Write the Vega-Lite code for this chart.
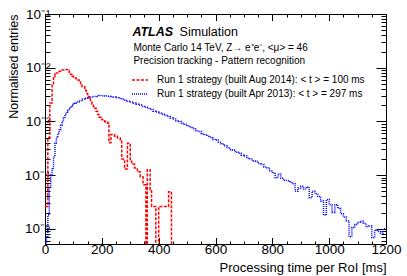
{
  "$schema": "https://vega.github.io/schema/vega-lite/v6.json",
  "width": 341,
  "height": 230,
  "autosize": "none",
  "padding": {"left": 45, "top": 14, "right": 21, "bottom": 32},
  "background": "white",
  "config": {
    "view": {"stroke": null},
    "font": "Liberation Sans",
    "axis": {
      "grid": false,
      "domainColor": "black",
      "domainWidth": 1,
      "tickColor": "black",
      "tickWidth": 1,
      "labelColor": "black",
      "titleColor": "black",
      "titleFontWeight": "normal",
      "labelFont": "Liberation Sans",
      "titleFont": "Liberation Sans",
      "labelOverlap": false,
      "labelFlush": false
    },
    "legend": {"labelLimit": 0}
  },
  "datasets": {
    "hist": [
      {"build": "Aug 2014", "t": 0, "v": 2.6e-5},
      {"build": "Aug 2014", "t": 10, "v": 5e-4},
      {"build": "Aug 2014", "t": 17, "v": 2.2e-3},
      {"build": "Aug 2014", "t": 25, "v": 5.0e-3},
      {"build": "Aug 2014", "t": 30, "v": 6.8e-3},
      {"build": "Aug 2014", "t": 35, "v": 7.6e-3},
      {"build": "Aug 2014", "t": 40, "v": 8.0e-3},
      {"build": "Aug 2014", "t": 50, "v": 8.6e-3},
      {"build": "Aug 2014", "t": 60, "v": 9.1e-3},
      {"build": "Aug 2014", "t": 70, "v": 9.3e-3},
      {"build": "Aug 2014", "t": 80, "v": 8.9e-3},
      {"build": "Aug 2014", "t": 85, "v": 8.2e-3},
      {"build": "Aug 2014", "t": 90, "v": 7.5e-3},
      {"build": "Aug 2014", "t": 95, "v": 6.9e-3},
      {"build": "Aug 2014", "t": 100, "v": 6.4e-3},
      {"build": "Aug 2014", "t": 110, "v": 5.9e-3},
      {"build": "Aug 2014", "t": 120, "v": 5.4e-3},
      {"build": "Aug 2014", "t": 125, "v": 4.9e-3},
      {"build": "Aug 2014", "t": 130, "v": 4.4e-3},
      {"build": "Aug 2014", "t": 140, "v": 3.8e-3},
      {"build": "Aug 2014", "t": 145, "v": 3.3e-3},
      {"build": "Aug 2014", "t": 150, "v": 2.9e-3},
      {"build": "Aug 2014", "t": 155, "v": 2.6e-3},
      {"build": "Aug 2014", "t": 160, "v": 2.3e-3},
      {"build": "Aug 2014", "t": 165, "v": 2.1e-3},
      {"build": "Aug 2014", "t": 170, "v": 1.9e-3},
      {"build": "Aug 2014", "t": 175, "v": 1.75e-3},
      {"build": "Aug 2014", "t": 180, "v": 1.55e-3},
      {"build": "Aug 2014", "t": 185, "v": 1.35e-3},
      {"build": "Aug 2014", "t": 190, "v": 1.2e-3},
      {"build": "Aug 2014", "t": 200, "v": 1.07e-3},
      {"build": "Aug 2014", "t": 210, "v": 9.8e-4},
      {"build": "Aug 2014", "t": 220, "v": 9.2e-4},
      {"build": "Aug 2014", "t": 225, "v": 4.0e-4},
      {"build": "Aug 2014", "t": 232, "v": 5.7e-4},
      {"build": "Aug 2014", "t": 245, "v": 5.3e-4},
      {"build": "Aug 2014", "t": 255, "v": 4.9e-4},
      {"build": "Aug 2014", "t": 265, "v": 4.5e-4},
      {"build": "Aug 2014", "t": 270, "v": 2.0e-4},
      {"build": "Aug 2014", "t": 280, "v": 1.3e-4},
      {"build": "Aug 2014", "t": 290, "v": 3.9e-4},
      {"build": "Aug 2014", "t": 300, "v": 1.8e-4},
      {"build": "Aug 2014", "t": 305, "v": 1.6e-4},
      {"build": "Aug 2014", "t": 315, "v": 1.35e-4},
      {"build": "Aug 2014", "t": 325, "v": 1.15e-4},
      {"build": "Aug 2014", "t": 335, "v": 9.3e-5},
      {"build": "Aug 2014", "t": 345, "v": 6.6e-5},
      {"build": "Aug 2014", "t": 355, "v": 1e-7},
      {"build": "Aug 2014", "t": 360, "v": 1.26e-4},
      {"build": "Aug 2014", "t": 370, "v": 5.3e-5},
      {"build": "Aug 2014", "t": 375, "v": 2.6e-5},
      {"build": "Aug 2014", "t": 390, "v": 1e-7},
      {"build": "Aug 2014", "t": 400, "v": 2.6e-5},
      {"build": "Aug 2014", "t": 435, "v": 4.9e-5},
      {"build": "Aug 2014", "t": 445, "v": 1e-7},
      {"build": "Aug 2014", "t": 450, "v": 1e-7},
      {"build": "Apr 2013", "t": 0, "v": 1e-7},
      {"build": "Apr 2013", "t": 5, "v": 7e-6},
      {"build": "Apr 2013", "t": 10, "v": 1.8e-5},
      {"build": "Apr 2013", "t": 15, "v": 6e-5},
      {"build": "Apr 2013", "t": 20, "v": 1.0e-4},
      {"build": "Apr 2013", "t": 25, "v": 1.3e-4},
      {"build": "Apr 2013", "t": 30, "v": 2.2e-4},
      {"build": "Apr 2013", "t": 35, "v": 3.9e-4},
      {"build": "Apr 2013", "t": 40, "v": 5.0e-4},
      {"build": "Apr 2013", "t": 45, "v": 6.0e-4},
      {"build": "Apr 2013", "t": 50, "v": 7.0e-4},
      {"build": "Apr 2013", "t": 55, "v": 8.5e-4},
      {"build": "Apr 2013", "t": 60, "v": 1.0e-3},
      {"build": "Apr 2013", "t": 65, "v": 1.15e-3},
      {"build": "Apr 2013", "t": 70, "v": 1.35e-3},
      {"build": "Apr 2013", "t": 75, "v": 1.5e-3},
      {"build": "Apr 2013", "t": 80, "v": 1.6e-3},
      {"build": "Apr 2013", "t": 85, "v": 1.75e-3},
      {"build": "Apr 2013", "t": 90, "v": 1.9e-3},
      {"build": "Apr 2013", "t": 95, "v": 2.0e-3},
      {"build": "Apr 2013", "t": 100, "v": 2.1e-3},
      {"build": "Apr 2013", "t": 105, "v": 2.2e-3},
      {"build": "Apr 2013", "t": 110, "v": 2.3e-3},
      {"build": "Apr 2013", "t": 120, "v": 2.45e-3},
      {"build": "Apr 2013", "t": 130, "v": 2.6e-3},
      {"build": "Apr 2013", "t": 140, "v": 2.7e-3},
      {"build": "Apr 2013", "t": 150, "v": 2.75e-3},
      {"build": "Apr 2013", "t": 160, "v": 2.85e-3},
      {"build": "Apr 2013", "t": 170, "v": 2.9e-3},
      {"build": "Apr 2013", "t": 180, "v": 2.95e-3},
      {"build": "Apr 2013", "t": 190, "v": 3.02e-3},
      {"build": "Apr 2013", "t": 200, "v": 3.0e-3},
      {"build": "Apr 2013", "t": 210, "v": 2.97e-3},
      {"build": "Apr 2013", "t": 220, "v": 2.95e-3},
      {"build": "Apr 2013", "t": 230, "v": 2.88e-3},
      {"build": "Apr 2013", "t": 240, "v": 2.84e-3},
      {"build": "Apr 2013", "t": 250, "v": 2.75e-3},
      {"build": "Apr 2013", "t": 260, "v": 2.68e-3},
      {"build": "Apr 2013", "t": 270, "v": 2.57e-3},
      {"build": "Apr 2013", "t": 280, "v": 2.47e-3},
      {"build": "Apr 2013", "t": 290, "v": 2.37e-3},
      {"build": "Apr 2013", "t": 300, "v": 2.29e-3},
      {"build": "Apr 2013", "t": 310, "v": 2.2e-3},
      {"build": "Apr 2013", "t": 320, "v": 2.09e-3},
      {"build": "Apr 2013", "t": 330, "v": 2.01e-3},
      {"build": "Apr 2013", "t": 340, "v": 1.9e-3},
      {"build": "Apr 2013", "t": 350, "v": 1.83e-3},
      {"build": "Apr 2013", "t": 360, "v": 1.73e-3},
      {"build": "Apr 2013", "t": 370, "v": 1.67e-3},
      {"build": "Apr 2013", "t": 380, "v": 1.55e-3},
      {"build": "Apr 2013", "t": 390, "v": 1.49e-3},
      {"build": "Apr 2013", "t": 400, "v": 1.41e-3},
      {"build": "Apr 2013", "t": 410, "v": 1.36e-3},
      {"build": "Apr 2013", "t": 420, "v": 1.28e-3},
      {"build": "Apr 2013", "t": 430, "v": 1.23e-3},
      {"build": "Apr 2013", "t": 440, "v": 1.15e-3},
      {"build": "Apr 2013", "t": 450, "v": 1.11e-3},
      {"build": "Apr 2013", "t": 460, "v": 1.03e-3},
      {"build": "Apr 2013", "t": 470, "v": 9.9e-4},
      {"build": "Apr 2013", "t": 480, "v": 9.2e-4},
      {"build": "Apr 2013", "t": 490, "v": 8.8e-4},
      {"build": "Apr 2013", "t": 500, "v": 8.3e-4},
      {"build": "Apr 2013", "t": 510, "v": 7.7e-4},
      {"build": "Apr 2013", "t": 520, "v": 7.3e-4},
      {"build": "Apr 2013", "t": 530, "v": 6.7e-4},
      {"build": "Apr 2013", "t": 540, "v": 6.5e-4},
      {"build": "Apr 2013", "t": 550, "v": 5.9e-4},
      {"build": "Apr 2013", "t": 560, "v": 5.7e-4},
      {"build": "Apr 2013", "t": 570, "v": 5.3e-4},
      {"build": "Apr 2013", "t": 580, "v": 5.0e-4},
      {"build": "Apr 2013", "t": 590, "v": 4.6e-4},
      {"build": "Apr 2013", "t": 600, "v": 4.5e-4},
      {"build": "Apr 2013", "t": 610, "v": 4.1e-4},
      {"build": "Apr 2013", "t": 620, "v": 3.85e-4},
      {"build": "Apr 2013", "t": 630, "v": 3.5e-4},
      {"build": "Apr 2013", "t": 640, "v": 3.25e-4},
      {"build": "Apr 2013", "t": 650, "v": 2.95e-4},
      {"build": "Apr 2013", "t": 660, "v": 2.92e-4},
      {"build": "Apr 2013", "t": 670, "v": 2.65e-4},
      {"build": "Apr 2013", "t": 680, "v": 2.55e-4},
      {"build": "Apr 2013", "t": 690, "v": 2.35e-4},
      {"build": "Apr 2013", "t": 700, "v": 2.26e-4},
      {"build": "Apr 2013", "t": 710, "v": 2.05e-4},
      {"build": "Apr 2013", "t": 720, "v": 2.02e-4},
      {"build": "Apr 2013", "t": 730, "v": 1.82e-4},
      {"build": "Apr 2013", "t": 740, "v": 1.8e-4},
      {"build": "Apr 2013", "t": 750, "v": 1.63e-4},
      {"build": "Apr 2013", "t": 760, "v": 1.57e-4},
      {"build": "Apr 2013", "t": 770, "v": 1.42e-4},
      {"build": "Apr 2013", "t": 780, "v": 1.37e-4},
      {"build": "Apr 2013", "t": 790, "v": 1.2e-4},
      {"build": "Apr 2013", "t": 800, "v": 1.1e-4},
      {"build": "Apr 2013", "t": 810, "v": 8.9e-5},
      {"build": "Apr 2013", "t": 820, "v": 1.05e-4},
      {"build": "Apr 2013", "t": 830, "v": 8.7e-5},
      {"build": "Apr 2013", "t": 840, "v": 7.9e-5},
      {"build": "Apr 2013", "t": 850, "v": 7.9e-5},
      {"build": "Apr 2013", "t": 860, "v": 7.4e-5},
      {"build": "Apr 2013", "t": 870, "v": 6.9e-5},
      {"build": "Apr 2013", "t": 880, "v": 5.0e-5},
      {"build": "Apr 2013", "t": 890, "v": 5.75e-5},
      {"build": "Apr 2013", "t": 900, "v": 6.2e-5},
      {"build": "Apr 2013", "t": 910, "v": 5.5e-5},
      {"build": "Apr 2013", "t": 920, "v": 6.0e-5},
      {"build": "Apr 2013", "t": 930, "v": 3.8e-5},
      {"build": "Apr 2013", "t": 940, "v": 5.0e-5},
      {"build": "Apr 2013", "t": 950, "v": 4.5e-5},
      {"build": "Apr 2013", "t": 960, "v": 4.0e-5},
      {"build": "Apr 2013", "t": 970, "v": 3.3e-5},
      {"build": "Apr 2013", "t": 980, "v": 1.8e-5},
      {"build": "Apr 2013", "t": 990, "v": 3.5e-5},
      {"build": "Apr 2013", "t": 1000, "v": 2.8e-5},
      {"build": "Apr 2013", "t": 1010, "v": 2.0e-5},
      {"build": "Apr 2013", "t": 1020, "v": 2.8e-5},
      {"build": "Apr 2013", "t": 1030, "v": 2.4e-5},
      {"build": "Apr 2013", "t": 1040, "v": 1.9e-5},
      {"build": "Apr 2013", "t": 1050, "v": 1.66e-5},
      {"build": "Apr 2013", "t": 1060, "v": 1.41e-5},
      {"build": "Apr 2013", "t": 1070, "v": 7.1e-6},
      {"build": "Apr 2013", "t": 1080, "v": 1.05e-5},
      {"build": "Apr 2013", "t": 1090, "v": 1.2e-5},
      {"build": "Apr 2013", "t": 1100, "v": 1.32e-5},
      {"build": "Apr 2013", "t": 1110, "v": 1.38e-5},
      {"build": "Apr 2013", "t": 1120, "v": 1.26e-5},
      {"build": "Apr 2013", "t": 1130, "v": 1.1e-5},
      {"build": "Apr 2013", "t": 1140, "v": 1.12e-5},
      {"build": "Apr 2013", "t": 1150, "v": 6.8e-6},
      {"build": "Apr 2013", "t": 1160, "v": 9.5e-6},
      {"build": "Apr 2013", "t": 1170, "v": 8.9e-6},
      {"build": "Apr 2013", "t": 1180, "v": 8.3e-6},
      {"build": "Apr 2013", "t": 1190, "v": 1.0e-5},
      {"build": "Apr 2013", "t": 1200, "v": 1.0e-5}
    ]
  },
  "layer": [
    {
      "data": {"name": "hist"},
      "mark": {"type": "line", "interpolate": "step-after", "strokeWidth": 1.5, "clip": true},
      "encoding": {
        "x": {
          "field": "t", "type": "quantitative",
          "scale": {"domain": [0, 1200], "nice": false, "zero": false},
          "axis": {
            "orient": "bottom",
            "values": [0, 50, 100, 150, 200, 250, 300, 350, 400, 450, 500, 550, 600, 650, 700, 750, 800, 850, 900, 950, 1000, 1050, 1100, 1150, 1200],
            "labelExpr": "datum.value % 200 === 0 ? '' + datum.value : ''",
            "tickSize": {"condition": {"test": "datum.value % 200 === 0", "value": -6.5}, "value": -3},
            "labelFontSize": 13.5,
            "labelPadding": 5,
            "title": "Processing time per RoI [ms]",
            "titleFontSize": 13,
            "titleAnchor": "end",
            "titlePadding": 2
          }
        },
        "y": {
          "field": "v", "type": "quantitative",
          "scale": {"type": "log", "domain": [5.2e-6, 0.1], "nice": false},
          "axis": {
            "orient": "left",
            "values": [6e-6, 7e-6, 8e-6, 9e-6, 1e-5, 2e-5, 3e-5, 4e-5, 5e-5, 6e-5, 7e-5, 8e-5, 9e-5, 1e-4, 2e-4, 3e-4, 4e-4, 5e-4, 6e-4, 7e-4, 8e-4, 9e-4, 1e-3, 2e-3, 3e-3, 4e-3, 5e-3, 6e-3, 7e-3, 8e-3, 9e-3, 0.01, 0.02, 0.03, 0.04, 0.05, 0.06, 0.07, 0.08, 0.09, 0.1],
            "labelExpr": "abs(log(datum.value)/LN10 - round(log(datum.value)/LN10)) < 0.001 ? ['10⁻⁵','10⁻⁴','10⁻³','10⁻²','10⁻¹'][round(log(datum.value)/LN10)+5] : ''",
            "tickSize": {"condition": {"test": "abs(log(datum.value)/LN10 - round(log(datum.value)/LN10)) < 0.001", "value": -10}, "value": -5},
            "labelFontSize": 13.5,
            "labelPadding": 5,
            "title": "Normalised entries",
            "titleFontSize": 12.5,
            "titleAnchor": "end",
            "titlePadding": 4
          }
        },
        "color": {
          "field": "build", "type": "nominal",
          "scale": {"domain": ["Aug 2014", "Apr 2013"], "range": ["#ff0000", "#0000ff"]},
          "legend": {
            "orient": "none", "legendX": 86, "legendY": 57, "title": null,
            "symbolType": "stroke", "symbolSize": 256, "symbolStrokeWidth": 1.5,
            "labelFontSize": 10, "labelOffset": 8, "rowPadding": -6, "padding": 0, "labelLimit": 0,
            "labelColor": "black", "labelFont": "Liberation Sans",
            "labelExpr": "'Run 1 strategy (built ' + datum.label + '):  < t > =  ' + (datum.label == 'Aug 2014' ? '100' : '297') + ' ms'"
          }
        },
        "strokeDash": {
          "field": "build", "type": "nominal",
          "scale": {"domain": ["Aug 2014", "Apr 2013"], "range": [[3, 1.5], [1, 1]]},
          "legend": {
            "orient": "none", "legendX": 86, "legendY": 57, "title": null,
            "symbolType": "stroke", "symbolSize": 256, "symbolStrokeWidth": 1.5,
            "labelFontSize": 10, "labelOffset": 8, "rowPadding": -6, "padding": 0, "labelLimit": 0,
            "labelColor": "black", "labelFont": "Liberation Sans",
            "labelExpr": "'Run 1 strategy (built ' + datum.label + '):  < t > =  ' + (datum.label == 'Aug 2014' ? '100' : '297') + ' ms'"
          }
        }
      }
    },
    {
      "data": {"values": [{}]},
      "mark": {"type": "text", "text": "ATLAS", "fontStyle": "italic", "fontWeight": "bold", "fontSize": 12.5, "align": "left", "baseline": "alphabetic", "font": "Liberation Sans", "color": "black"},
      "encoding": {
        "x": {
          "datum": 307.5, "type": "quantitative",
          "scale": {"domain": [0, 1200], "nice": false, "zero": false},
          "axis": {
            "orient": "top", "labels": false, "title": null,
            "values": [0, 50, 100, 150, 200, 250, 300, 350, 400, 450, 500, 550, 600, 650, 700, 750, 800, 850, 900, 950, 1000, 1050, 1100, 1150, 1200],
            "tickSize": {"condition": {"test": "datum.value % 200 === 0", "value": -6.5}, "value": -3}
          }
        },
        "y": {
          "datum": 0.039, "type": "quantitative",
          "scale": {"type": "log", "domain": [5.2e-6, 0.1], "nice": false},
          "axis": {
            "orient": "right", "labels": false, "title": null,
            "values": [6e-6, 7e-6, 8e-6, 9e-6, 1e-5, 2e-5, 3e-5, 4e-5, 5e-5, 6e-5, 7e-5, 8e-5, 9e-5, 1e-4, 2e-4, 3e-4, 4e-4, 5e-4, 6e-4, 7e-4, 8e-4, 9e-4, 1e-3, 2e-3, 3e-3, 4e-3, 5e-3, 6e-3, 7e-3, 8e-3, 9e-3, 0.01, 0.02, 0.03, 0.04, 0.05, 0.06, 0.07, 0.08, 0.09, 0.1],
            "tickSize": {"condition": {"test": "abs(log(datum.value)/LN10 - round(log(datum.value)/LN10)) < 0.001", "value": -10}, "value": -5}
          }
        }
      }
    },
    {
      "data": {"values": [{}]},
      "mark": {"type": "text", "text": "Simulation", "fontSize": 12.5, "align": "left", "baseline": "alphabetic", "font": "Liberation Sans", "color": "black"},
      "encoding": {
        "x": {"datum": 473.7, "type": "quantitative", "scale": {"domain": [0, 1200], "nice": false, "zero": false}, "axis": null},
        "y": {"datum": 0.039, "type": "quantitative", "scale": {"type": "log", "domain": [5.2e-6, 0.1], "nice": false}, "axis": null}
      }
    },
    {
      "data": {"values": [{}]},
      "mark": {"type": "text", "text": "Monte Carlo 14 TeV,  Z→ e⁺e⁻, <μ> = 46", "fontSize": 10, "align": "left", "baseline": "alphabetic", "font": "Liberation Sans", "color": "black"},
      "encoding": {
        "x": {"datum": 311, "type": "quantitative", "scale": {"domain": [0, 1200], "nice": false, "zero": false}, "axis": null},
        "y": {"datum": 0.0209, "type": "quantitative", "scale": {"type": "log", "domain": [5.2e-6, 0.1], "nice": false}, "axis": null}
      }
    },
    {
      "data": {"values": [{}]},
      "mark": {"type": "text", "text": "Precision tracking - Pattern recognition", "fontSize": 10, "align": "left", "baseline": "alphabetic", "font": "Liberation Sans", "color": "black"},
      "encoding": {
        "x": {"datum": 311, "type": "quantitative", "scale": {"domain": [0, 1200], "nice": false, "zero": false}, "axis": null},
        "y": {"datum": 0.01175, "type": "quantitative", "scale": {"type": "log", "domain": [5.2e-6, 0.1], "nice": false}, "axis": null}
      }
    }
  ],
  "resolve": {"axis": {"x": "independent", "y": "independent"}}
}
